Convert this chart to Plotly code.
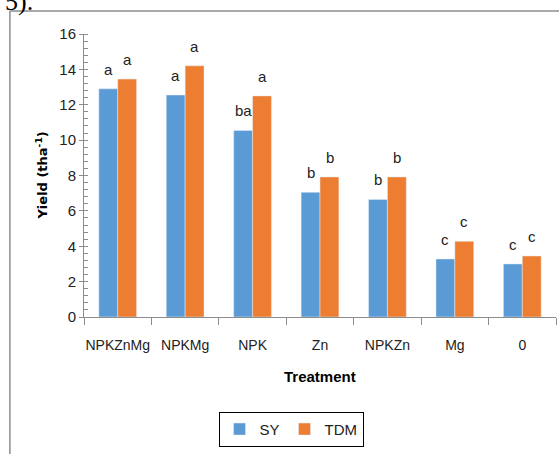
import plotly.graph_objects as go

categories = ["NPKZnMg", "NPKMg", "NPK", "Zn", "NPKZn", "Mg", "0"]
sy_values = [12.9, 12.55, 10.55, 7.05, 6.65, 3.28, 3.0]
tdm_values = [13.45, 14.2, 12.5, 7.92, 7.92, 4.28, 3.45]
sy_letters = ["a", "a", "ba", "b", "b", "c", "c"]
tdm_letters = ["a", "a", "a", "b", "b", "c", "c"]

BLUE = "#5B9BD5"
ORANGE = "#ED7D31"
AXIS = "#8C8C8C"
FONT = "Liberation Sans, Arial, sans-serif"

fig = go.Figure()
fig.add_trace(go.Bar(name="SY", x=categories, y=sy_values, marker_color=BLUE))
fig.add_trace(go.Bar(name="TDM", x=categories, y=tdm_values, marker_color=ORANGE))

annotations = []
for i, (v, t) in enumerate(zip(sy_values, sy_letters)):
    annotations.append(dict(x=i, y=v, text=t, xref="x", yref="y", showarrow=False,
                            xshift=-9.5, yanchor="bottom", yshift=9,
                            font=dict(family=FONT, size=15, color="#222")))
for i, (v, t) in enumerate(zip(tdm_values, tdm_letters)):
    annotations.append(dict(x=i, y=v, text=t, xref="x", yref="y", showarrow=False,
                            xshift=9.5, yanchor="bottom", yshift=9,
                            font=dict(family=FONT, size=15, color="#222")))
annotations.append(dict(x=0.5, y=-0.212, xref="paper", yref="paper", text="<b>Treatment</b>",
                        showarrow=False, yanchor="middle",
                        font=dict(family=FONT, size=15, color="#000")))
annotations.append(dict(x=-0.091, y=0.5, xref="paper", yref="paper",
                        text="<b>Yield (tha<sup>-1</sup>)</b>", textangle=-90,
                        showarrow=False, xanchor="center", yanchor="middle",
                        font=dict(family="DejaVu Sans", size=13, color="#000")))
annotations.append(dict(x=-0.172, y=1.115, xref="paper", yref="paper", text="5).",
                        showarrow=False, xanchor="left", yanchor="middle",
                        font=dict(family="Liberation Serif", size=26, color="#000")))

fig.update_layout(
    width=559, height=454,
    margin=dict(l=84, r=3, t=34, b=137),
    paper_bgcolor="white", plot_bgcolor="white",
    barmode="group", bargap=0.44, bargroupgap=0,
    font=dict(family=FONT, size=14, color="#333"),
    showlegend=True,
    legend=dict(orientation="h", x=0.4386, xanchor="center", y=-0.335, yanchor="top",
                bordercolor="#000", borderwidth=1, font=dict(family=FONT, size=15, color="#222"),
                itemwidth=30, tracegroupgap=0),
    annotations=annotations,
    shapes=[
        dict(type="line", xref="paper", yref="paper", x0=-0.157, x1=1.01, y0=1.081, y1=1.081,
             line=dict(color="#8C8C8C", width=1.5)),
        dict(type="line", xref="paper", yref="paper", x0=-0.157, x1=-0.157, y0=1.081, y1=-0.49,
             line=dict(color="#8C8C8C", width=1.5)),
    ],
)
fig.update_xaxes(type="category", showline=True, linecolor=AXIS, linewidth=1, ticks="outside",
                 tickson="boundaries", ticklen=7, tickcolor=AXIS, showgrid=False, tickangle=0,
                 ticklabelstandoff=15,
                 tickfont=dict(family=FONT, size=14, color="#222"))
fig.update_yaxes(range=[0, 16], dtick=2, showline=True, linecolor=AXIS, linewidth=1,
                 ticks="outside", ticklen=4, tickcolor=AXIS, showgrid=False, zeroline=False,
                 tickfont=dict(family=FONT, size=15, color="#222"),
                 minor=dict(dtick=0.4, ticks="inside", ticklen=4, tickcolor=AXIS))

fig.write_html("out.html")
